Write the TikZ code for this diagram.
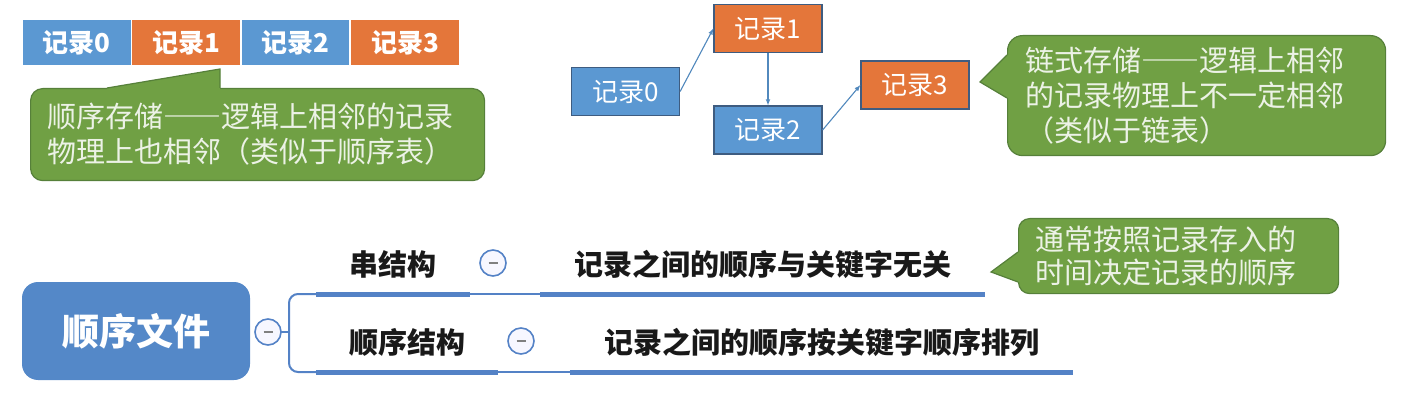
\documentclass[tikz,border=0pt]{standalone}
\usepackage{fontspec}
\setmainfont{Noto Sans CJK SC}
\usetikzlibrary{positioning}
\definecolor{recblue}{RGB}{91,152,210}
\definecolor{recorange}{RGB}{228,118,58}
\definecolor{rootblue}{RGB}{84,136,200}
\definecolor{barblue}{RGB}{84,130,198}
\definecolor{notegreen}{RGB}{112,160,68}
\definecolor{noteline}{RGB}{86,128,58}
\definecolor{notetext}{RGB}{236,242,230}
\definecolor{edgeblue}{RGB}{62,92,128}
\newcommand{\wdash}{{\addfontfeature{RawFeature=+fwid}——}}

\begin{document}
\begin{tikzpicture}[x=1pt,y=-1pt]
\tikzstyle{cell}=[rectangle, minimum width=107.5pt, minimum height=45pt, inner sep=0pt, text=white, font=\fontsize{26}{28}\selectfont\bfseries]
\tikzstyle{rec}=[rectangle, draw=edgeblue, line width=1.2pt, minimum width=108pt, minimum height=48pt, inner sep=0pt, text=white, font=\fontsize{26}{28}\selectfont]
\tikzstyle{connect}=[-latex, line width=1.1pt, draw=recblue!90!black, fill=recblue!90!black]
\tikzstyle{note}=[rectangle, rounded corners=12pt, fill=notegreen, draw=noteline, line width=1.2pt, text=notetext, align=left, anchor=north west, font=\fontsize{29}{35}\selectfont]
\tikzstyle{pointer}=[draw=noteline, line width=1.2pt, line join=miter]
\tikzstyle{root}=[rectangle, rounded corners=16pt, fill=rootblue, minimum width=228pt, minimum height=98pt, text=white, font=\fontsize{37}{40}\selectfont\bfseries]
\tikzstyle{branch}=[anchor=south, inner xsep=0pt, inner ysep=12pt, text height=24pt, text depth=6pt, text=black!90, font=\fontsize{29}{32}\selectfont\bfseries]
\tikzstyle{bar}=[line width=5pt, draw=barblue]
\tikzstyle{link}=[line width=2pt, draw=barblue]
\tikzstyle{fold}=[circle, draw=barblue, line width=1.6pt, fill=blue!3, minimum size=26pt, inner sep=0pt,
  path picture={\draw[gray, line width=1.5pt] ([xshift=-4.5pt]path picture bounding box.center) -- ([xshift=4.5pt]path picture bounding box.center);}]
\useasboundingbox (0,0) rectangle (1408,414);

  % sequential storage
  \node[cell, fill=recblue] (t0) at (76.75,42.5) {记录0};
  \node[cell, fill=recorange] (t1) [right=1.5pt of t0] {记录1};
  \node[cell, fill=recblue] (t2) [right=1.5pt of t1] {记录2};
  \node[cell, fill=recorange] (t3) [right=1.5pt of t2] {记录3};
  \node[note, minimum width=454pt, minimum height=92pt, inner xsep=17pt, text width=420pt] (note1) at (30,88)
    {顺序存储\wdash 逻辑上相邻的记录\\物理上也相邻（类似于顺序表）};
  \coordinate (tip1) at (220,69);
  \fill[notegreen] (107,88) -- (tip1) -- (220,88) -- (220,91) -- (107,91) -- cycle;
  \draw[pointer] (107,88) -- (tip1) -- (220,88);

  % linked storage
  \node[rec, fill=recblue] (r0) at (625.5,91.5) {记录0};
  \node[rec, fill=recorange] (r1) at (768,28.5) {记录1};
  \node[rec, fill=recblue] (r2) at (768,130) {记录2};
  \node[rec, fill=recorange] (r3) at (915,85) {记录3};
  \path (r0.east) edge [connect] (r1.west);
  \path (r1.south) edge [connect] (r2.north);
  \path (r2.east) edge [connect] (r3.west);
  \node[note, rounded corners=15pt, minimum width=378pt, minimum height=120pt, inner xsep=18pt, text width=342pt] (note2) at (1007,35)
    {链式存储\wdash 逻辑上相邻\\的记录物理上不一定相邻\\（类似于链表）};
  \coordinate (tip2) at (980,82);
  \fill[notegreen] (1007,55) -- (tip2) -- (1007,98) -- (1010,98) -- (1010,55) -- cycle;
  \draw[pointer] (1007,55) -- (tip2) -- (1007,98);

  % mind map
  \node[root] (file) at (136,331) {顺序文件};
  \node[branch, minimum width=154pt] (b1) at (393,294) {串结构};
  \node[branch, minimum width=445pt] (d1) at (762.5,294) {记录之间的顺序与关键字无关};
  \node[branch, minimum width=182pt] (b2) at (407,372) {顺序结构};
  \node[branch, minimum width=503pt] (d2) at (821.5,372) {记录之间的顺序按关键字顺序排列};
  \coordinate (fork) at (289,332);
  \draw[link, rounded corners=9pt] (b1.south west) -| (fork) |- (b2.south west);
  \draw[link] (b1.south east) -- (d1.south west);
  \draw[link] (b2.south east) -- (d2.south west);
  \draw[link] (268,332) -- (fork);
  \draw[bar] (b1.south west) -- (b1.south east);
  \draw[bar] (d1.south west) -- (d1.south east);
  \draw[bar] (b2.south west) -- (b2.south east);
  \draw[bar] (d2.south west) -- (d2.south east);
  \node[fold] (m0) at (268,332) {};
  \node[fold] (m1) at (493,263) {};
  \node[fold] (m2) at (521,341) {};
  \node[note, rounded corners=11pt, minimum width=320pt, minimum height=75pt, inner xsep=17pt, text width=286pt, font=\fontsize{29}{33}\selectfont] (note3) at (1018,218)
    {通常按照记录存入的\\时间决定记录的顺序};
  \coordinate (tip3) at (991,272);
  \fill[notegreen] (1018,252) -- (tip3) -- (1018,282) -- (1021,282) -- (1021,252) -- cycle;
  \draw[pointer] (1018,252) -- (tip3) -- (1018,282);
\end{tikzpicture}
\end{document}
